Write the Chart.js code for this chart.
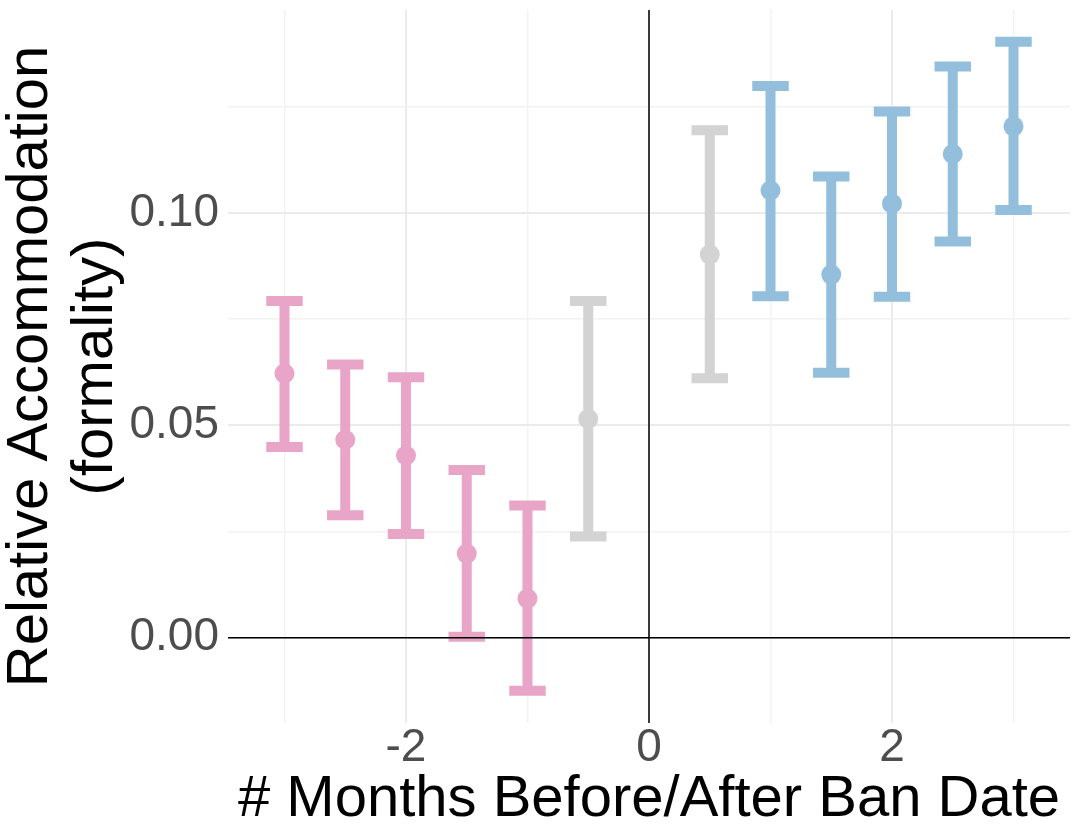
<!DOCTYPE html>
<html>
<head>
<meta charset="utf-8">
<script src="https://cdn.jsdelivr.net/npm/chart.js@4.4.1/dist/chart.umd.min.js"></script>
<style>
  html, body { margin: 0; padding: 0; background: #fff; }
  #wrap { width: 1080px; height: 840px; }
</style>
</head>
<body>
<div id="wrap"><canvas id="chart"></canvas></div>
<script>
// months relative to the ban date
const months = [-3, -2.5, -2, -1.5, -1, -0.5, 0.5, 1, 1.5, 2, 2.5, 3];
// point estimates and interval bounds
const estimate = [0.0622, 0.0466, 0.0429, 0.0198, 0.0092, 0.0515, 0.0902, 0.1053, 0.0855, 0.1022, 0.1139, 0.1204];
const lower = [0.0449, 0.0288, 0.0244, 0.0002, -0.0125, 0.0238, 0.0611, 0.0804, 0.0624, 0.0803, 0.0933, 0.1007];
const upper = [0.0793, 0.0643, 0.0613, 0.0395, 0.0311, 0.0793, 0.1195, 0.1299, 0.1086, 0.1239, 0.1345, 0.1403];
const period = ['before', 'before', 'before', 'before', 'before', 'transition',
                'transition', 'after', 'after', 'after', 'after', 'after'];

const xTicks = [-2, 0, 2];
const yTicks = [0, 0.05, 0.10];

const periodColor = { before: '#E8A5C8', transition: '#D3D3D3', after: '#93BFDC' };
const capWidth = 0.3;
const font = '"Liberation Sans", Arial, sans-serif';

function isLabelled(list, v) {
    return list.some((t) => Math.abs(t - v) < 1e-9);
}

const errorBars = {
    id: 'errorBars',
    beforeDatasetsDraw(chart) {
        const { ctx, scales: { x, y } } = chart;
        ctx.save();
        ctx.lineWidth = 10;
        ctx.lineCap = 'butt';
        months.forEach((m, i) => {
            const px = x.getPixelForValue(m);
            const left = x.getPixelForValue(m - capWidth / 2);
            const right = x.getPixelForValue(m + capWidth / 2);
            const top = y.getPixelForValue(upper[i]);
            const bot = y.getPixelForValue(lower[i]);
            ctx.strokeStyle = periodColor[period[i]];
            ctx.beginPath();
            ctx.moveTo(px, top);
            ctx.lineTo(px, bot);
            ctx.moveTo(left, top);
            ctx.lineTo(right, top);
            ctx.moveTo(left, bot);
            ctx.lineTo(right, bot);
            ctx.stroke();
        });
        ctx.restore();
    }
};

const zeroLines = {
    id: 'zeroLines',
    afterDatasetsDraw(chart) {
        const { ctx, chartArea: a, scales: { x, y } } = chart;
        const x0 = x.getPixelForValue(0);
        const y0 = y.getPixelForValue(0);
        ctx.save();
        ctx.strokeStyle = '#000';
        ctx.lineWidth = 1.5;
        ctx.beginPath();
        ctx.moveTo(x0, a.top);
        ctx.lineTo(x0, a.bottom);
        ctx.moveTo(a.left, y0);
        ctx.lineTo(a.right, y0);
        ctx.stroke();
        ctx.restore();
    }
};

new Chart(document.getElementById('chart'), {
    type: 'scatter',
    data: {
        datasets: [{
            data: months.map((m, i) => ({ x: m, y: estimate[i] })),
            pointRadius: 10,
            pointHoverRadius: 10,
            pointBorderWidth: 0,
            pointBackgroundColor: period.map((p) => periodColor[p]),
            pointBorderColor: period.map((p) => periodColor[p])
        }]
    },
    options: {
        responsive: true,
        maintainAspectRatio: false,
        animation: false,
        events: [],
        layout: { padding: { top: 10, right: 10, left: 0, bottom: 0 } },
        plugins: {
            legend: { display: false },
            tooltip: { enabled: false }
        },
        scales: {
            x: {
                type: 'linear',
                min: -3.465,
                max: 3.465,
                border: { display: false },
                grid: {
                    drawTicks: false,
                    color: (c) => isLabelled(xTicks, c.tick.value) ? '#EBEBEB' : '#F2F2F2',
                    lineWidth: (c) => isLabelled(xTicks, c.tick.value) ? 2 : 1.4
                },
                ticks: {
                    stepSize: 1,
                    includeBounds: false,
                    autoSkip: false,
                    maxRotation: 0,
                    padding: 2,
                    color: '#4D4D4D',
                    font: { family: font, size: 46, lineHeight: 1 },
                    callback: (v) => isLabelled(xTicks, v) ? String(v) : ''
                },
                title: {
                    display: true,
                    text: '# Months Before/After Ban Date',
                    color: '#000',
                    font: { family: font, size: 58, lineHeight: 1 },
                    padding: { top: 0, bottom: 11 }
                },
                afterFit: (scale) => {
                    scale.height = 117;
                    scale.paddingLeft = 0;
                    scale.paddingRight = 0;
                }
            },
            y: {
                min: -0.0201,
                max: 0.1478,
                border: { display: false },
                grid: {
                    drawTicks: false,
                    color: (c) => isLabelled(yTicks, c.tick.value) ? '#EBEBEB' : '#F2F2F2',
                    lineWidth: (c) => isLabelled(yTicks, c.tick.value) ? 2 : 1.4
                },
                ticks: {
                    stepSize: 0.025,
                    includeBounds: false,
                    autoSkip: false,
                    padding: 9,
                    color: '#4D4D4D',
                    font: { family: font, size: 46, lineHeight: 1 },
                    callback: (v) => isLabelled(yTicks, v) ? v.toFixed(2) : ''
                },
                title: {
                    display: true,
                    text: ['Relative Accommodation', '(formality)'],
                    color: '#000',
                    font: { family: font, size: 58, lineHeight: 65 / 58 },
                    padding: { top: -2, bottom: 0 }
                },
                afterFit: (scale) => {
                    scale.width = 228;
                    scale.paddingTop = 0;
                    scale.paddingBottom = 0;
                }
            }
        }
    },
    plugins: [errorBars, zeroLines]
});
</script>
</body>
</html>
